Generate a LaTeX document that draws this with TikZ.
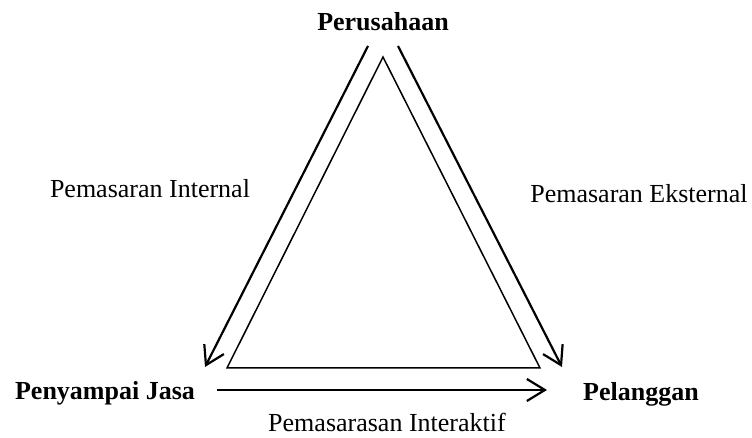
\documentclass[tikz,border=0pt]{standalone}
\usepackage{fontspec}
\setmainfont{Liberation Serif}
\usetikzlibrary{arrows.meta}

\begin{document}
\begin{tikzpicture}[
  x=0.5pt, y=-0.5pt,
  partynode/.style={anchor=base, inner sep=0pt, font=\fontsize{13}{15}\selectfont\bfseries},
  flowlabel/.style={anchor=base, inner sep=0pt, font=\fontsize{13}{15}\selectfont},
  flowedge/.style={draw, line width=1.1pt, -{Straight Barb[length=9pt,width=11pt,line width=1.1pt]}},
  triedge/.style={draw, line width=0.75pt, line join=miter},
]
  \useasboundingbox (0,0) rectangle (752,438);
  \node[partynode] (perusahaan) at (383,31) {Perusahaan};
  \node[partynode] (penyampai) at (105,400) {Penyampai Jasa};
  \node[partynode] (pelanggan) at (641,401) {Pelanggan};
  \coordinate (apex) at (383,57);
  \coordinate (baseL) at (227,368);
  \coordinate (baseR) at (540,368);
  \draw[triedge] (apex) -- (baseL) -- (baseR) -- cycle;
  \coordinate (intS) at (368,46);
  \coordinate (intE) at (205,367);
  \coordinate (extS) at (398,46);
  \coordinate (extE) at (562,367);
  \coordinate (actS) at (217,390);
  \coordinate (actE) at (547,390);
  \draw[flowedge] (intS) -- (intE);
  \draw[flowedge] (extS) -- (extE);
  \draw[flowedge] (actS) -- (actE);
  \node[flowlabel] (internal) at (150,198) {Pemasaran Internal};
  \node[flowlabel] (eksternal) at (639,203) {Pemasaran Eksternal};
  \node[flowlabel] (interaktif) at (387,432) {Pemasarasan Interaktif};
\end{tikzpicture}
\end{document}
